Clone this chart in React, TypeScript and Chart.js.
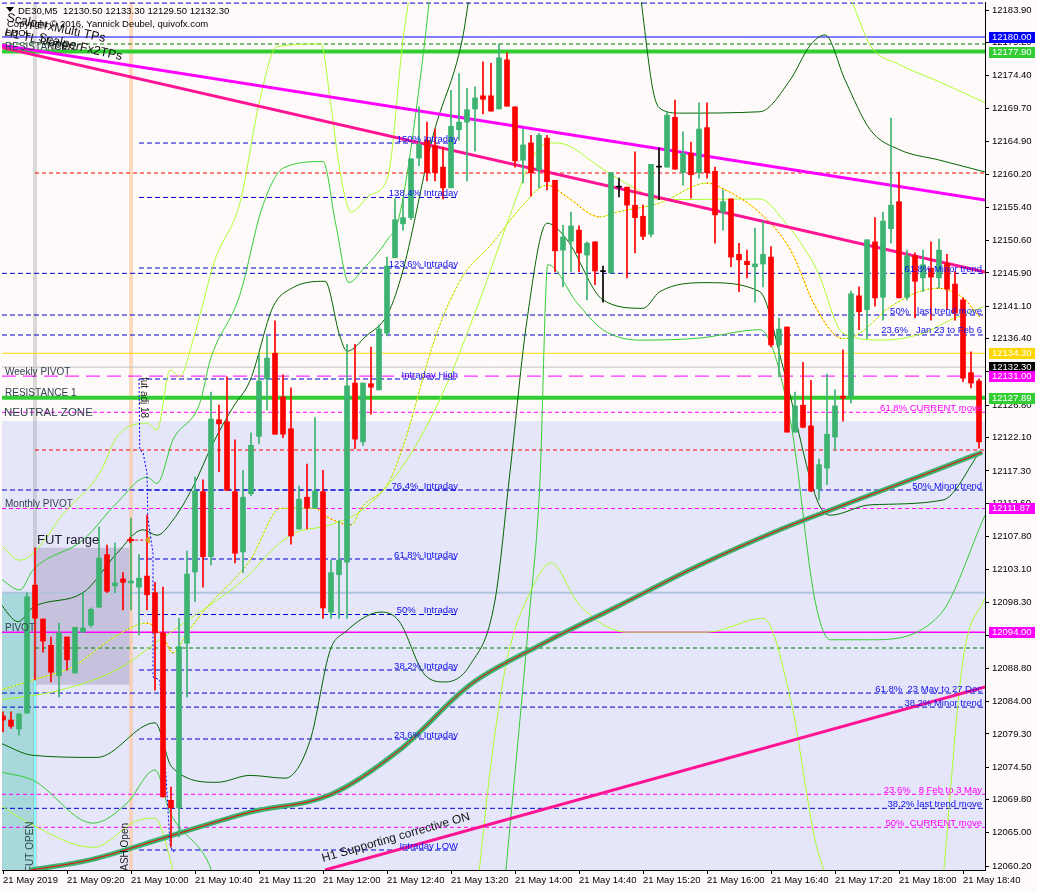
import React, { useEffect, useRef } from "react";
import { Chart, registerables } from "chart.js";

Chart.register(...registerables);

// ---------------- axes ----------------
const Y_MIN = 12059.63;
const Y_MAX = 12185.06;
const X_MIN = -0.125;
const X_MAX = 122.75;

const PRICE_TICKS = [
  12183.9, 12179.2, 12174.4, 12169.7, 12164.9, 12160.2, 12155.4, 12150.6, 12145.9,
  12141.1, 12136.4, 12131.6, 12126.8, 12122.1, 12117.3, 12112.6, 12107.8, 12103.1,
  12098.3, 12093.5, 12088.8, 12084.0, 12079.3, 12074.5, 12069.8, 12065.0, 12060.2,
];
const TIME_TICK_BARS = [0, 8, 16, 24, 32, 40, 48, 56, 64, 72, 80, 88, 96, 104, 112, 120];
const TIME_LABELS = [
  "21 May 2019", "21 May 09:20", "21 May 10:00", "21 May 10:40", "21 May 11:20",
  "21 May 12:00", "21 May 12:40", "21 May 13:20", "21 May 14:00", "21 May 14:40",
  "21 May 15:20", "21 May 16:00", "21 May 16:40", "21 May 17:20", "21 May 18:00",
  "21 May 18:40",
];

// ---------------- candles (M5) ----------------
const OPEN = [
  12081.9, 12081.3, 12080.0, 12082.3, 12100.8, 12095.9, 12092.1, 12087.7, 12093.3, 12088.1,
  12094.0, 12095.0, 12097.6, 12105.2, 12100.7, 12101.7, 12101.1, 12100.5, 12102.1, 12099.7,
  12093.9, 12069.7, 12068.6, 12092.4, 12102.7, 12114.3, 12104.9, 12124.7, 12124.4, 12114.3,
  12105.6, 12114.0, 12122.3, 12130.6, 12134.3, 12128.0, 12123.4, 12108.9, 12113.5, 12111.9,
  12114.3, 12096.9, 12102.3, 12104.1, 12130.0, 12121.5, 12129.9, 12129.0, 12137.2, 12148.1,
  12153.0, 12153.9, 12162.5, 12165.1, 12164.3, 12161.2, 12158.2, 12166.6, 12167.7, 12169.6,
  12171.5, 12171.5, 12169.6, 12176.7, 12169.9, 12162.2, 12164.7, 12160.8, 12165.4, 12159.3,
  12149.2, 12150.5, 12152.1, 12148.5, 12150.4, 12146.1, 12145.9, 12158.3, 12158.3, 12155.7,
  12154.1, 12151.5, 12161.2, 12161.2, 12168.4, 12160.4, 12163.2, 12160.4, 12166.9, 12160.6,
  12154.7, 12156.6, 12148.6, 12147.6, 12146.8, 12147.2, 12148.2, 12135.5, 12138.1, 12122.9,
  12126.8, 12123.8, 12114.7, 12117.7, 12122.2, 12128.1, 12128.1, 12142.6, 12140.6, 12150.4,
  12142.4, 12152.3, 12156.2, 12142.4, 12148.4, 12145.2, 12146.6, 12145.2, 12147.3, 12144.3,
  12142.0, 12131.5, 12130.3,
];
const HIGH = [
  12082.5, 12082.5, 12082.2, 12099.7, 12106.2, 12095.9, 12093.3, 12095.3, 12093.3, 12094.7,
  12099.7, 12097.5, 12109.2, 12106.6, 12106.9, 12102.6, 12110.5, 12105.2, 12110.9, 12101.2,
  12100.5, 12071.6, 12096.0, 12105.7, 12116.4, 12116.0, 12128.7, 12126.8, 12130.9, 12121.8,
  12117.4, 12122.8, 12134.3, 12136.8, 12139.0, 12131.2, 12129.3, 12115.1, 12118.3, 12125.0,
  12117.4, 12104.4, 12110.1, 12135.6, 12135.6, 12130.0, 12135.2, 12138.4, 12148.2, 12156.6,
  12156.6, 12162.4, 12169.9, 12167.7, 12166.7, 12164.1, 12172.3, 12174.7, 12172.6, 12172.8,
  12176.4, 12176.2, 12179.0, 12177.7, 12169.9, 12166.7, 12165.8, 12166.1, 12165.8, 12159.3,
  12152.8, 12154.7, 12152.7, 12150.4, 12150.4, 12146.9, 12160.4, 12159.6, 12158.3, 12163.4,
  12155.7, 12161.6, 12164.0, 12169.2, 12170.9, 12166.3, 12164.8, 12170.5, 12170.5, 12161.2,
  12157.9, 12156.6, 12150.2, 12149.2, 12152.4, 12153.3, 12149.7, 12139.4, 12138.1, 12128.7,
  12133.0, 12130.4, 12119.0, 12131.3, 12129.0, 12134.8, 12143.3, 12143.9, 12150.7, 12153.9,
  12154.7, 12168.3, 12160.5, 12149.2, 12148.8, 12149.2, 12150.4, 12150.8, 12148.6, 12146.1,
  12142.3, 12134.5, 12130.6,
];
const LOW = [
  12079.6, 12080.1, 12079.1, 12082.3, 12087.1, 12091.1, 12086.8, 12084.6, 12088.5, 12088.1,
  12094.0, 12094.7, 12097.6, 12099.7, 12099.7, 12097.2, 12097.2, 12093.6, 12097.2, 12085.6,
  12070.2, 12063.0, 12064.4, 12084.6, 12098.4, 12100.5, 12103.7, 12117.2, 12114.5, 12104.0,
  12102.6, 12113.7, 12121.2, 12126.1, 12122.6, 12122.1, 12106.7, 12108.9, 12108.9, 12111.9,
  12096.0, 12096.0, 12096.0, 12096.0, 12120.5, 12121.0, 12125.5, 12129.0, 12136.8, 12148.1,
  12152.1, 12153.6, 12161.4, 12159.2, 12159.2, 12156.6, 12158.2, 12165.1, 12159.2, 12163.5,
  12168.9, 12169.3, 12169.6, 12170.0, 12161.2, 12158.9, 12157.0, 12158.2, 12157.9, 12146.1,
  12143.9, 12146.1, 12146.1, 12142.0, 12144.2, 12141.7, 12145.9, 12156.9, 12145.2, 12148.8,
  12150.7, 12151.1, 12156.5, 12161.2, 12160.9, 12158.6, 12156.7, 12159.6, 12159.6, 12150.2,
  12152.1, 12146.8, 12143.2, 12145.2, 12141.7, 12143.9, 12135.2, 12130.9, 12122.9, 12122.9,
  12123.5, 12114.3, 12113.1, 12115.3, 12120.3, 12124.5, 12127.1, 12137.7, 12136.4, 12141.1,
  12139.1, 12150.2, 12142.3, 12142.0, 12139.4, 12143.2, 12139.1, 12143.7, 12140.6, 12139.1,
  12130.2, 12129.3, 12120.6,
];
const CLOSE = [
  12081.3, 12080.4, 12082.2, 12099.1, 12096.0, 12092.7, 12088.2, 12093.9, 12090.0, 12094.7,
  12094.6, 12097.3, 12104.7, 12099.9, 12101.1, 12101.2, 12101.4, 12101.8, 12099.4, 12093.9,
  12070.2, 12068.6, 12091.9, 12102.4, 12114.4, 12104.9, 12124.8, 12124.1, 12114.5, 12105.4,
  12113.5, 12121.0, 12130.3, 12133.6, 12122.6, 12122.6, 12107.9, 12113.2, 12111.9, 12114.4,
  12097.5, 12102.6, 12104.4, 12129.6, 12121.9, 12130.0, 12129.4, 12137.8, 12146.9, 12153.6,
  12153.9, 12162.4, 12164.5, 12160.4, 12160.4, 12158.2, 12167.1, 12167.7, 12169.5, 12171.2,
  12171.0, 12169.3, 12177.0, 12170.0, 12162.1, 12164.4, 12160.4, 12165.8, 12159.1, 12149.1,
  12151.1, 12152.7, 12148.8, 12150.2, 12146.2, 12146.1, 12160.4, 12158.3, 12155.7, 12153.9,
  12151.2, 12161.6, 12161.2, 12168.7, 12160.9, 12163.2, 12160.1, 12166.7, 12160.4, 12154.3,
  12156.2, 12148.2, 12147.8, 12147.1, 12147.2, 12148.6, 12135.5, 12137.8, 12122.9, 12126.7,
  12123.6, 12114.4, 12118.2, 12122.6, 12126.7, 12127.8, 12142.9, 12140.3, 12150.7, 12142.3,
  12153.4, 12155.7, 12142.3, 12148.4, 12144.7, 12147.1, 12145.3, 12149.2, 12143.6, 12140.1,
  12130.7, 12130.0, 12121.5,
];

// ---------------- indicator curves [bar, price] ----------------
const DG_UP = [[-0.4,12098.2],[1.9,12095.5],[3.75,12097.6],[10,12099.7],[14.25,12105.4],[17.5,12108.8],[19.25,12108.0],[21.25,12110.2],[23.75,12115.0],[26.25,12121.3],[28.75,12126.5],[30.9,12130.4],[33.75,12141.0],[36.1,12143.7],[40.25,12144.7],[42.1,12136.8],[43,12134.6],[45.4,12136.8],[48.1,12140.0],[50,12146.3],[53.75,12165.7],[57.4,12179.6],[58.4,12186.8],[69,null],[79.6,12186.8],[81.25,12172.3],[82.1,12169.7],[84.6,12169.0],[94.6,12169.2],[98.4,12173.8],[100.9,12178.8],[102.75,12180.3],[105.25,12173.8],[108.4,12166.6],[112.1,12163.7],[117.1,12162.2],[122.75,12160.5]];
const DG_LO = [[-0.4,12078.0],[3.75,12076.2],[11.75,12075.9],[19,12080.9],[21.1,12074.5],[26.75,12072.3],[30.9,12073.3],[35.25,12072.9],[38.4,12078.4],[40.9,12091.4],[42.75,12094.0],[47.25,12096.9],[49.5,12095.6],[52.75,12087.8],[55.25,12086.8],[58.4,12089.3],[61.5,12098.6],[63.4,12117.4],[65.5,12139.1],[68,12153.1],[70.5,12150.7],[75,12142.0],[80,12140.8],[82.1,12143.2],[88,12144.5],[94.6,12143.2],[97.5,12132.3],[101.75,12113.1],[103.4,12110.9],[108.4,12112.4],[117.5,12113.1],[122.1,12120.0]];
const MG_UP = [[-0.4,12101.8],[2.1,12100.1],[3.75,12103.0],[10,12107.3],[14.25,12112.7],[18,12116.4],[19.25,12115.5],[21.25,12121.8],[24.6,12127.1],[25.9,12133.3],[29.6,12142.7],[32.4,12155.4],[35.1,12161.1],[40,12162.0],[41.6,12152.9],[43.25,12144.5],[44.9,12146.3],[48.1,12150.8],[49.5,12153.9],[52.75,12179.6],[53.4,12186.8]];
const MG_LO = [[-0.4,12073.8],[3.75,12072.6],[11.25,12066.4],[15.5,12069.3],[19,12074.1],[20.9,12067.9],[25.5,12061.1],[26.5,12058.2],[44,null],[62.75,12058.2],[65.75,12096.0],[67.1,12115.4],[68.1,12147.1],[71.75,12141.6],[75,12137.7],[79.6,12136.2],[87.1,12136.5],[94.6,12137.7],[98.4,12124.7],[101.5,12098.6],[103.4,12092.9],[108.4,12092.9],[117.1,12096.5],[122.75,12110.9]];
const GY_UP = [[0,12106.3],[2.1,12104.4],[8,12111.7],[12.1,12117.0],[14.25,12122.2],[18,12124.2],[19.25,12123.2],[20.9,12131.9],[22.1,12130.9],[23.75,12136.2],[26.5,12147.8],[29.6,12156.0],[32.1,12170.9],[34.25,12178.6],[39.75,12179.0],[40.9,12170.9],[42.1,12160.8],[43.5,12154.7],[45.9,12157.2],[48.1,12159.8],[50,12179.6],[50.9,12186.8],[78,null],[105.25,12186.8],[106.1,12185.1],[108.4,12178.8],[112.1,12176.0],[117.1,12173.5],[122.75,12170.5]];
const GY_LO = [[-0.4,12069.0],[3.75,12066.1],[11.25,12062.9],[17.1,12066.9],[19,12067.1],[20.9,12061.1],[21.5,12058.2],[40,null],[59.4,12058.2],[61,12075.0],[63,12090.0],[66,12100.0],[68.5,12104.0],[72,12098.0],[78,12094.0],[88,12094.0],[95,12096.0],[98.5,12084.0],[101.5,12064.0],[103,12058.2],[110,null],[117.5,12058.2],[120,12090.0],[122.75,12099.0]];
const MA_PTS = [[-0.4,12085.6],[3.75,12087.1],[8.75,12089.0],[13.4,12092.9],[18,12095.3],[20,12093.3],[21.25,12091.0],[23,12093.9],[26.25,12098.6],[28.75,12101.5],[30.9,12104.4],[34.75,12111.9],[38.9,12111.9],[40.75,12110.5],[43.5,12109.5],[44.9,12112.1],[48.1,12115.4],[50,12120.8],[54.1,12136.8],[57.4,12145.3],[61.1,12150.1],[64.75,12155.4],[68,12158.6],[70.5,12156.9],[74.6,12154.0],[76.75,12154.7],[82.1,12156.0],[88,12158.9],[89.6,12158.3],[94.6,12154.6],[98.4,12149.3],[101.75,12140.6],[105,12136.4],[107.1,12137.2],[110.9,12141.0],[116.75,12143.7],[120,12142.3],[122.1,12139.5]];
const GY_MID = [[-0.4,12084.2],[7.1,12085.6],[14.6,12088.8],[19.6,12092.9],[24.6,12096.9],[29.6,12101.1],[35.9,12108.0],[40.9,12109.5],[44.6,12111.4],[49.6,12117.4],[54.6,12127.6],[59.6,12142.0],[63.4,12154.3],[66.25,12162.7],[68.4,12164.7],[70.5,12164.4],[74.6,12161.2],[78.75,12158.3],[82.1,12156.5],[94.6,12156.6],[97.5,12153.6],[101.75,12146.3],[105,12137.2],[110,12136.2],[115,12137.2],[118.4,12139.1],[122.5,12141.0]];
const EMA_PTS = [[3.4,12059.6],[10.9,12061.1],[20.5,12064.4],[30.9,12068.0],[40.9,12070.5],[49.6,12077.0],[58.4,12086.4],[67.1,12092.1],[77.1,12097.9],[87.1,12103.7],[97.1,12108.8],[106.75,12113.1],[115.9,12117.1],[122.4,12120.0]];

// ---------------- trend lines [bar, price] ----------------
const MAGENTA_TL = [[-0.375,12178.85],[122.75,12156.45]];
const PINK_TL = [[-0.375,12178.56],[122.75,12146.04]];
const SUPPORT_TL = [[40.25,12059.63],[122.75,12086.07]];
const FUT_ADJ_PATH = [[17,12130.6],[17.1,12120.3],[17.5,12120.0],[18,12117.0],[18.1,12110.6],[18.75,12105.4],[18.75,12087.5],[19.6,12087.1],[20,12080.3],[20.5,12070.7],[20.9,12063.0],[21.4,12062.2]];

// ---------------- horizontal levels ----------------
const BLUE_SOLID_LEVELS = [12180.0];
const GREEN_THICK_LEVELS = [12177.9, 12127.89];
const GOLD_LEVELS = [12134.3];
const SILVER_LEVELS = [12132.3];
const WEEKLY_PIVOT = [12131.0];
const PIVOT_LEVELS = [12094.0];
const STEEL_LEVELS = [12099.7];
const BLUE_DASH_LEVELS = [12184.9, 12145.85, 12139.83, 12136.94, 12114.54, 12085.2, 12083.17, 12068.54];
const MAGENTA_DASH_LEVELS = [12125.77, 12111.87, 12070.57, 12065.8];
const RED_DASH_LEVELS = [12160.35, 12120.32];
const GREEN_DASH_LEVELS = [12178.99, 12091.71];
const INTRADAY_LEVELS = [12164.68, 12156.82, 12146.62, 12130.58, 12114.54, 12104.57, 12096.55, 12088.53, 12078.56, 12062.52];
const INTRADAY_TEXT = ["150% Intraday", "138.4% Intraday", "123.6% Intraday", "Intraday High", "76.4%  Intraday", "61.8% Intraday", "50%   Intraday", "38.2% Intraday", "23.6% Intraday", "Intraday LOW"];
const INTRADAY_BARS = [17, 57];

const RIGHT_TEXT = ["61.8% Minor trend", "50%   last trend move", "23.6%   Jan 23 to Feb 6", "61.8% CURRENT move", "50% Minor trend", "61.8%  23 May to 27 Dec", "38.2% Minor trend", "23.6%   8 Feb to 3 May", "38.2% last trend move", "50%  CURRENT move"];
const RIGHT_TEXT_LEVELS = [12145.85, 12139.83, 12136.94, 12125.77, 12114.54, 12085.2, 12083.17, 12070.57, 12068.54, 12065.8];
const RIGHT_TEXT_MAGENTA = [false, false, false, true, false, false, false, true, false, true];

const LEFT_TEXT = ["RESISTANCE 2", "Weekly PIVOT", "RESISTANCE 1", "Monthly PIVOT", "PIVOT"];
const LEFT_TEXT_LEVELS = [12177.9, 12131.0, 12127.89, 12111.87, 12094.0];

const AXIS_BOX_PRICES = [12180.0, 12177.9, 12134.3, 12132.3, 12131.0, 12127.89, 12111.87, 12094.0];
const AXIS_BOX_TEXT = ["12180.00", "12177.90", "12134.30", "12132.30", "12131.00", "12127.89", "12111.87", "12094.00"];

// zones
const NEUTRAL_ZONE_TOP = 12124.5;
const FUT_OPEN_TOP = 12099.8;
const FUT_RANGE = [12106.2, 12086.4];
const FUT_OPEN_BAR = 4;
const CASH_OPEN_BAR = 16;
const FUT_ARROW = [[15.9, 12107.3], [18.1, 12107.3]];

const HEADER = "DE30,M5  12130.50 12133.30 12129.50 12132.30";
const COPYRIGHT = "Copyright \u00A9 2016, Yannick Deubel, quivofx.com";

// ---------------- helpers ----------------
const FONT = '"Liberation Sans", Arial, sans-serif';
const pts = (arr: any[]) => arr.map(([x, y]) => ({ x, y }));
const lvl = (p: number, x0 = X_MIN, x1 = X_MAX) => [{ x: x0, y: p }, { x: x1, y: p }];
const lineDs = (data: any, color: any, width: number, dash: number[], order: number, extra: any = {}) => ({
  type: "line",
  data,
  borderColor: color,
  borderWidth: width,
  borderDash: dash,
  pointRadius: 0,
  fill: false,
  tension: 0,
  clip: 0,
  order,
  spanGaps: false,
  ...extra,
});

const overlay = {
  id: "overlay",
  beforeDraw(chart: any) {
    const ctx = chart.ctx;
    ctx.save();
    ctx.fillStyle = "#FFFAFA";
    ctx.fillRect(0, 0, chart.width, chart.height);
    ctx.restore();
  },
  beforeDatasetsDraw(chart: any) {
    const { ctx, chartArea: a, scales } = chart;
    const x = scales.x, y = scales.y;
    ctx.save();
    ctx.beginPath();
    ctx.rect(a.left, a.top, a.right - a.left, a.bottom - a.top);
    ctx.clip();
    const zt = y.getPixelForValue(NEUTRAL_ZONE_TOP);
    ctx.fillStyle = "#E6E6FA";
    ctx.fillRect(a.left, zt, a.right - a.left, a.bottom - zt);
    const fx = x.getPixelForValue(FUT_OPEN_BAR);
    const ft = y.getPixelForValue(FUT_OPEN_TOP);
    ctx.fillStyle = "#A8D8DB";
    ctx.fillRect(a.left, ft, fx - a.left, a.bottom - ft);
    const cx = x.getPixelForValue(CASH_OPEN_BAR);
    const r1 = y.getPixelForValue(FUT_RANGE[0]);
    const r2 = y.getPixelForValue(FUT_RANGE[1]);
    ctx.fillStyle = "#C6C2DD";
    ctx.fillRect(fx + 1, r1, cx - fx - 2, r2 - r1);
    ctx.fillStyle = "rgba(150,150,150,0.33)";
    ctx.fillRect(fx - 2, a.top, 4, a.bottom - a.top);
    ctx.fillStyle = "rgba(255,196,150,0.6)";
    ctx.fillRect(cx - 2, a.top, 4, a.bottom - a.top);
    ctx.strokeStyle = "#7FFFFF";
    ctx.lineWidth = 2;
    ctx.beginPath();
    ctx.moveTo(fx, ft);
    ctx.lineTo(fx, a.bottom);
    ctx.stroke();
    ctx.restore();
  },
  afterDatasetsDraw(chart: any) {
    const { ctx, chartArea: a, scales } = chart;
    const x = scales.x, y = scales.y;
    ctx.save();
    ctx.beginPath();
    ctx.rect(a.left, a.top, a.right - a.left, a.bottom - a.top);
    ctx.clip();
    ctx.textBaseline = "alphabetic";

    ctx.font = `9.5px ${FONT}`;
    ctx.fillStyle = "#1010F0";
    ctx.textAlign = "right";
    INTRADAY_LEVELS.forEach((p, i) => {
      ctx.fillText(INTRADAY_TEXT[i], x.getPixelForValue(INTRADAY_BARS[1]) - 1, y.getPixelForValue(p) - 1.5);
    });
    RIGHT_TEXT.forEach((t, i) => {
      ctx.fillStyle = RIGHT_TEXT_MAGENTA[i] ? "#FF00FF" : "#1010F0";
      ctx.fillText(t, a.right - 3, y.getPixelForValue(RIGHT_TEXT_LEVELS[i]) - 1.5);
    });
    ctx.textAlign = "left";
    ctx.font = `10px ${FONT}`;
    ctx.fillStyle = "#2F3F4F";
    LEFT_TEXT.forEach((t, i) => {
      ctx.fillText(t, a.left + 3, y.getPixelForValue(LEFT_TEXT_LEVELS[i]) - 1.5);
    });
    ctx.font = `11.5px ${FONT}`;
    ctx.fillText("NEUTRAL ZONE", a.left + 2, y.getPixelForValue(MAGENTA_DASH_LEVELS[0]) + 4);
    ctx.fillStyle = "#1a1a2a";
    ctx.font = `13px ${FONT}`;
    ctx.fillText("FUT range", x.getPixelForValue(FUT_OPEN_BAR) + 2, y.getPixelForValue(FUT_RANGE[0]) - 4);

    const ax0 = x.getPixelForValue(FUT_ARROW[0][0]);
    const ax1 = x.getPixelForValue(FUT_ARROW[1][0]);
    const ay = y.getPixelForValue(FUT_ARROW[0][1]);
    ctx.fillStyle = "red";
    ctx.fillRect(ax0 - 3, ay - 1, 7, 2);
    ctx.fillRect(ax0 - 1, ay - 3, 2, 6);
    ctx.fillStyle = "#DAA520";
    ctx.beginPath();
    ctx.moveTo(ax1 - 3, ay);
    ctx.lineTo(ax1 + 2, ay - 4);
    ctx.lineTo(ax1 + 2, ay + 4);
    ctx.closePath();
    ctx.fill();

    const rot = (s: string, px: number, py: number, ang: number, font: string, color: string) => {
      ctx.save();
      ctx.translate(px, py);
      ctx.rotate((ang * Math.PI) / 180);
      ctx.font = font;
      ctx.fillStyle = color;
      ctx.textAlign = "left";
      ctx.fillText(s, 0, 0);
      ctx.restore();
    };
    rot("FUT OPEN", x.getPixelForValue(FUT_OPEN_BAR) - 2, a.bottom + 2, -90, `10px ${FONT}`, "#2F4F4F");
    rot("CASH Open", x.getPixelForValue(CASH_OPEN_BAR) - 3, a.bottom + 8, -90, `10px ${FONT}`, "#222");
    rot("fut adj 18", x.getPixelForValue(17.3), y.getPixelForValue(INTRADAY_LEVELS[3]) - 2, 90, `10px ${FONT}`, "#222");
    rot("H1 Supporting corrective ON", x.getPixelForValue(SUPPORT_TL[0][0]) - 2, y.getPixelForValue(12060.8), -16, `12px ${FONT}`, "#111");
    rot("ScalperxMulti TPs", a.left + 4, 21, 12, `12.5px ${FONT}`, "#111");
    rot("H1 TL Upper", a.left + 2, 36, 12, `12px ${FONT}`, "#111");
    rot("ScalperFx2TPs", a.left + 36, 41, 13, `12.5px ${FONT}`, "#111");

    ctx.font = `9.5px ${FONT}`;
    ctx.fillStyle = "#000";
    ctx.fillText("CBOL", a.left + 3, 36);
    ctx.fillText(COPYRIGHT, a.left + 5, 27);
    ctx.fillText(HEADER, a.left + 16, 14);
    ctx.beginPath();
    ctx.moveTo(a.left + 4, 7);
    ctx.lineTo(a.left + 12, 7);
    ctx.lineTo(a.left + 8, 12);
    ctx.closePath();
    ctx.fill();
    ctx.restore();
  },
  afterDraw(chart: any) {
    const { ctx, chartArea: a, scales } = chart;
    const y = scales.y;
    const colors = ["#0000FF", "#32CD32", "#FFD700", "#000000", "#FF00FF", "#32CD32", "#FF00FF", "#FF00FF"];
    ctx.save();
    ctx.font = `9.5px ${FONT}`;
    ctx.textBaseline = "middle";
    ctx.textAlign = "left";
    AXIS_BOX_PRICES.forEach((p, i) => {
      const py = Math.round(y.getPixelForValue(p));
      ctx.fillStyle = colors[i];
      ctx.fillRect(a.right + 4, py - 5, 46, 11);
      ctx.fillStyle = "#FFFFFF";
      ctx.fillText(AXIS_BOX_TEXT[i], a.right + 7, py + 0.5);
    });
    ctx.restore();
  },
};

export default function App() {
  const ref = useRef<HTMLCanvasElement>(null);
  useEffect(() => {
    const canvas = ref.current;
    if (!canvas) return;
    const n = OPEN.length;
    const idx = Array.from({ length: n }, (_, i) => i);
    const candleColor = idx.map((i) =>
      CLOSE[i] > OPEN[i] ? "#3CB371" : CLOSE[i] < OPEN[i] ? "#FF0000" : "#000000"
    );

    const datasets: any[] = [];
    BLUE_SOLID_LEVELS.forEach((p) => datasets.push(lineDs(lvl(p), "#0000FF", 1, [], 40)));
    GOLD_LEVELS.forEach((p) => datasets.push(lineDs(lvl(p), "#FFD700", 1, [], 40)));
    SILVER_LEVELS.forEach((p) => datasets.push(lineDs(lvl(p), "#C0C0C0", 1, [], 40)));
    STEEL_LEVELS.forEach((p) => datasets.push(lineDs(lvl(p), "#B0C4DE", 2, [], 40)));
    PIVOT_LEVELS.forEach((p) => datasets.push(lineDs(lvl(p), "#FF00FF", 1.5, [], 40)));
    WEEKLY_PIVOT.forEach((p) => datasets.push(lineDs(lvl(p), "#FF00FF", 1, [14, 7], 40)));
    BLUE_DASH_LEVELS.forEach((p) => datasets.push(lineDs(lvl(p), "#0000CD", 1, [5, 3], 40)));
    MAGENTA_DASH_LEVELS.forEach((p) => datasets.push(lineDs(lvl(p), "#FF00FF", 1, [4, 3], 40)));
    RED_DASH_LEVELS.forEach((p) => datasets.push(lineDs(lvl(p, FUT_OPEN_BAR), "#FF0000", 1, [4, 3], 40)));
    GREEN_DASH_LEVELS.forEach((p, i) =>
      datasets.push(lineDs(lvl(p, i === 0 ? X_MIN : FUT_OPEN_BAR), "#008000", 1, [4, 3], 40))
    );
    INTRADAY_LEVELS.forEach((p) =>
      datasets.push(lineDs(lvl(p, INTRADAY_BARS[0], INTRADAY_BARS[1]), "#0000CD", 1, [5, 3], 40))
    );
    GREEN_THICK_LEVELS.forEach((p) => datasets.push(lineDs(lvl(p), "#32CD32", 4, [], 39)));
    datasets.push(lineDs(pts(FUT_ARROW), "#FF0000", 1, [3, 2], 39));

    const mono = { cubicInterpolationMode: "monotone" };
    datasets.push(lineDs(pts(GY_UP), "#ADFF2F", 1, [], 30, mono));
    datasets.push(lineDs(pts(GY_LO), "#ADFF2F", 1, [], 30, mono));
    datasets.push(lineDs(pts(GY_MID), "#ADFF2F", 1, [], 30, mono));
    datasets.push(lineDs(pts(MG_UP), "#32CD32", 1, [], 30, mono));
    datasets.push(lineDs(pts(MG_LO), "#32CD32", 1, [], 30, mono));
    datasets.push(lineDs(pts(DG_UP), "#006400", 1, [], 30, mono));
    datasets.push(lineDs(pts(DG_LO), "#006400", 1, [], 30, mono));
    datasets.push(lineDs(pts(MA_PTS), "#FFFF00", 1, [], 29, mono));
    datasets.push(
      lineDs(pts(MA_PTS), "#FF0000", 1, [1, 3], 28, {
        ...mono,
        segment: {
          borderColor: (c: any) => (c.p1.parsed.y < c.p0.parsed.y ? "#FF0000" : "#20B2AA"),
        },
      })
    );
    datasets.push(lineDs(pts(EMA_PTS), "#3CB371", 5, [], 27, mono));
    datasets.push(lineDs(pts(EMA_PTS), "#FF0000", 1, [], 26, mono));
    datasets.push(lineDs(pts(MAGENTA_TL), "#FF00FF", 3, [], 25));
    datasets.push(lineDs(pts(PINK_TL), "#FF1493", 3, [], 25));
    datasets.push(lineDs(pts(SUPPORT_TL), "#FF1493", 3, [], 25));
    datasets.push(lineDs(pts(FUT_ADJ_PATH), "#0000FF", 1, [2, 2], 24));

    datasets.push({
      type: "bar",
      data: idx.map((i) => ({ x: i, y: [LOW[i], HIGH[i]] })),
      backgroundColor: candleColor,
      barThickness: 1,
      grouped: false,
      borderWidth: 0,
      order: 2,
    });
    datasets.push({
      type: "bar",
      data: idx.map((i) => ({ x: i, y: [OPEN[i], CLOSE[i]] })),
      backgroundColor: candleColor,
      barThickness: 5,
      grouped: false,
      borderWidth: 0,
      minBarLength: 1,
      order: 1,
    });

    const tickFont = { family: FONT, size: 9.5 };
    const chart = new Chart(canvas, {
      type: "bar",
      data: { datasets },
      plugins: [overlay],
      options: {
        responsive: false,
        animation: false,
        devicePixelRatio: 1,
        events: [],
        layout: { padding: { left: 2, top: 2, right: 0, bottom: 0 } },
        plugins: { legend: { display: false }, tooltip: { enabled: false } },
        scales: {
          x: {
            type: "linear",
            min: X_MIN,
            max: X_MAX,
            offset: false,
            afterBuildTicks: (s: any) => {
              s.ticks = TIME_TICK_BARS.map((v) => ({ value: v }));
            },
            afterFit: (s: any) => {
              s.height = 22;
              s.paddingLeft = 0;
              s.paddingRight = 0;
            },
            ticks: {
              autoSkip: false,
              maxRotation: 0,
              minRotation: 0,
              align: "start",
              padding: 1,
              color: "#000",
              font: tickFont,
              callback: (v: any) => TIME_LABELS[TIME_TICK_BARS.indexOf(Number(v))] ?? "",
            },
            grid: { display: true, offset: false, drawOnChartArea: false, drawTicks: true, tickLength: 4, color: "#000" },
            border: { display: true, color: "#000", width: 1 },
          },
          y: {
            type: "linear",
            position: "right",
            min: Y_MIN,
            max: Y_MAX,
            beginAtZero: false,
            afterBuildTicks: (s: any) => {
              s.ticks = PRICE_TICKS.map((v) => ({ value: v }));
            },
            afterFit: (s: any) => {
              s.width = 52;
              s.paddingTop = 0;
              s.paddingBottom = 0;
            },
            ticks: {
              autoSkip: false,
              padding: 3,
              color: "#000",
              font: tickFont,
              callback: (v: any) => Number(v).toFixed(2),
            },
            grid: { display: true, drawOnChartArea: false, drawTicks: true, tickLength: 4, color: "#000" },
            border: { display: true, color: "#000", width: 1 },
          },
        },
      } as any,
    } as any);
    return () => chart.destroy();
  }, []);
  return (
    <div style={{ position: "fixed", left: 0, top: 0, width: 1037, height: 892, background: "#FFFAFA" }}>
      <canvas ref={ref} width={1037} height={892} style={{ display: "block", width: 1037, height: 892 }} />
    </div>
  );
}
